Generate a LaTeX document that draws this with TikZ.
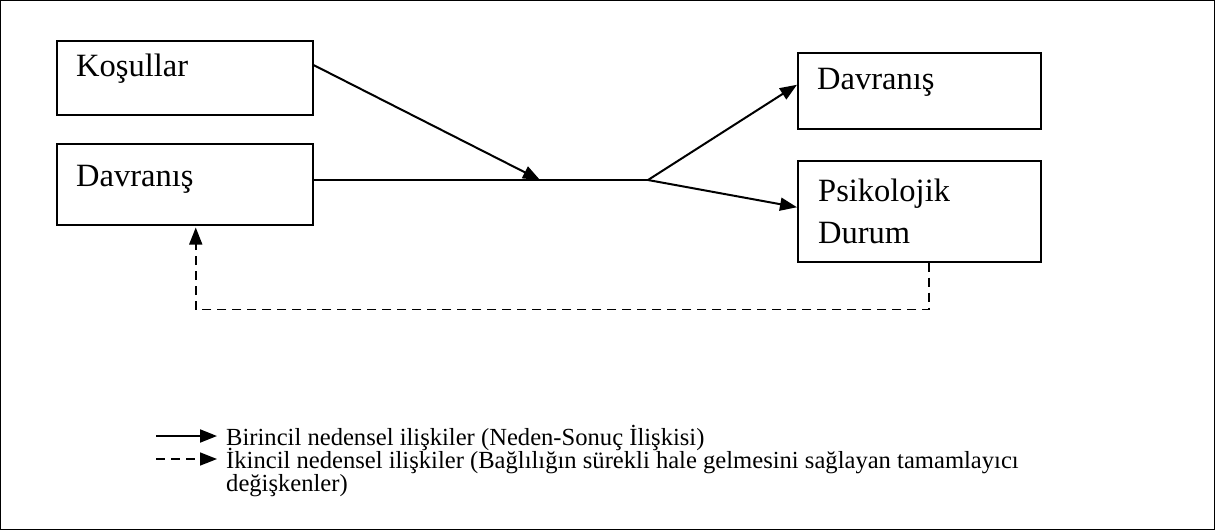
\documentclass[tikz,border=0pt]{standalone}
\usepackage{fontspec}
\setmainfont{Liberation Serif}
\usetikzlibrary{arrows.meta,calc}

\tikzset{
  box/.style={draw, line width=1.5pt, rectangle, inner sep=0pt, anchor=north west},
  boxtext/.style={anchor=base west, inner sep=0pt, font=\fontsize{32.5}{40}\selectfont},
  legtext/.style={anchor=base west, inner sep=0pt, font=\fontsize{24.6}{23}\selectfont, align=left},
  rel/.style={line width=2pt, -{Triangle[length=17pt,width=13pt]}},
  relline/.style={line width=2pt},
  sec/.style={line width=1.6pt, dash pattern=on 9pt off 6pt, -{Triangle[length=17pt,width=13pt]}},
}

\begin{document}
\begin{tikzpicture}[x=1pt, y=-1pt]
  % page frame
  \draw[line width=1.3pt] (0.7,0.7) rectangle (1214.3,529.5);
  \useasboundingbox (0,0) rectangle (1215,531);

  % boxes
  \node[box, minimum width=256pt, minimum height=74pt] (kos) at (56,40) {};
  \node[box, minimum width=256pt, minimum height=81pt] (dav1) at (56,143) {};
  \node[box, minimum width=243pt, minimum height=76pt] (dav2) at (797,52) {};
  \node[box, minimum width=243pt, minimum height=101pt] (psi) at (797,160) {};

  % box texts
  \node[boxtext] (tkos) at (76,76) {Koşullar};
  \node[boxtext] (tdav1) at (76,186) {Davranış};
  \node[boxtext] (tdav2) at (817,89) {Davranış};
  \node[boxtext] (tpsi1) at (818,201) {Psikolojik};
  \node[boxtext] (tpsi2) at (818,243) {Durum};

  % junction points
  \coordinate (m) at (540,180);
  \coordinate (j) at (648,180);

  % primary causal relations
  \draw[rel] ($(kos.north east)+(0,25)$) -- (m);
  \draw[relline] (dav1.east |- j) -- (j);
  \draw[rel] (j) -- ($(dav2.west)+(0,-6)$);
  \draw[rel] (j) -- ($(psi.west)+(0,-4)$);

  % secondary (feedback) relation
  \coordinate (fb) at ($(psi.south)+(10,0)$);
  \coordinate (fbin) at ($(dav1.south)+(11,2)$);
  \draw[sec] (fb) -- ++(0,47) -| (fbin);

  % legend
  \coordinate (l1a) at (156,436);
  \coordinate (l1b) at (217,436);
  \coordinate (l2a) at (156,459);
  \coordinate (l2b) at (217,459);
  \draw[rel] (l1a) -- (l1b);
  \draw[sec] (l2a) -- (l2b);
  \node[legtext] (leg1) at (226,445) {Birincil nedensel ilişkiler (Neden-Sonuç İlişkisi)};
  \node[legtext] (leg2) at (226,468) {İkincil nedensel ilişkiler (Bağlılığın sürekli hale gelmesini sağlayan tamamlayıcı};
  \node[legtext] (leg3) at (226,491) {değişkenler)};
\end{tikzpicture}
\end{document}
